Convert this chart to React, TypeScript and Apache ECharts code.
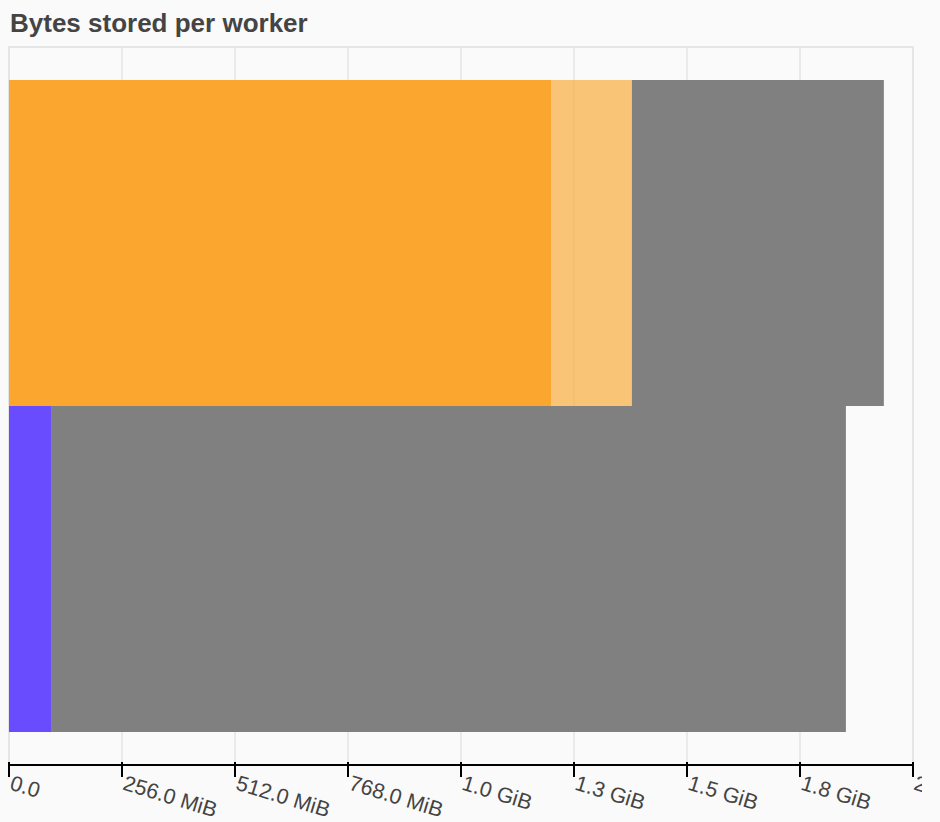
import React, { useEffect, useRef } from "react";
import * as echarts from "echarts";

const workers = ["worker-0", "worker-1"];
// values in MiB
const managed = [1228, 97];
const unmanagedRecent = [183, 0];
const unmanagedOld = [571, 1799];
const managedColors = ["#FBA72F", "#6A4CFF"];
const tickLabels = ["0.0", "256.0 MiB", "512.0 MiB", "768.0 MiB", "1.0 GiB", "1.3 GiB", "1.5 GiB", "1.8 GiB", "2.0 GiB"];
const axisMax = 2048;
const tickStep = 256;

const FONT = "'Liberation Sans', Arial, Helvetica, sans-serif";

export default function App() {
  const ref = useRef<HTMLDivElement>(null);
  useEffect(() => {
    document.body.style.margin = "0";
    document.body.style.background = "#fafafa";
    const chart = echarts.init(ref.current!, undefined, { renderer: "svg" });
    const fmt = (v: number) => {
      const i = Math.round(v / tickStep);
      return tickLabels[i] ?? "";
    };
    chart.setOption({
      animation: false,
      backgroundColor: "#fafafa",
      title: {
        text: "Bytes stored per worker",
        left: 10,
        top: 10,
        padding: 0,
        textStyle: { fontFamily: FONT, fontSize: 26, fontWeight: "bold", color: "#444444" },
      },
      grid: [
        { left: 9, right: 9, top: 47, bottom: 57, outerBoundsMode: "none", containLabel: false, show: true, borderColor: "#e5e5e5", borderWidth: 2, backgroundColor: "transparent" },
        { left: 9, right: 9, top: 80, bottom: 90, outerBoundsMode: "none", containLabel: false },
        { left: 9, right: 9, top: 47, bottom: 57, outerBoundsMode: "none", containLabel: false },
      ],
      xAxis: [
        {
          gridIndex: 0,
          type: "value",
          min: 0,
          max: axisMax,
          interval: tickStep,
          axisLine: { show: true, onZero: false, lineStyle: { color: "#000", width: 2 } },
          axisTick: { show: true, length: 12, lineStyle: { color: "#000", width: 2 } },
          splitLine: { show: true, lineStyle: { color: "#e5e5e5", width: 1.5 } },
          axisLabel: {
            show: true,
            rotate: -17,
            margin: 17,
            formatter: fmt,
            fontFamily: FONT,
            fontSize: 21.5,
            color: "#444444",
            padding: [0, 0, 0, 2],
            showMaxLabel: true,
            showMinLabel: true,
          },
        },
        {
          gridIndex: 1,
          type: "value",
          min: 0,
          max: axisMax,
          show: false,
        },
        {
          gridIndex: 2,
          type: "value",
          min: 0,
          max: axisMax,
          interval: tickStep,
          axisLine: { show: false },
          axisTick: { show: true, inside: true, length: 3, lineStyle: { color: "#000", width: 2 } },
          splitLine: { show: false },
          axisLabel: { show: false },
        },
      ],
      yAxis: [
        { gridIndex: 0, type: "category", data: workers, show: false },
        { gridIndex: 1, type: "category", data: workers, inverse: true, show: false },
        { gridIndex: 2, type: "category", data: workers, show: false },
      ],
      series: [
        {
          type: "bar",
          name: "managed",
          xAxisIndex: 1,
          yAxisIndex: 1,
          stack: "mem",
          barCategoryGap: 0,
          data: managed.map((v, i) => ({ value: v, itemStyle: { color: managedColors[i] } })),
        },
        {
          type: "bar",
          name: "unmanaged recent",
          xAxisIndex: 1,
          yAxisIndex: 1,
          stack: "mem",
          barCategoryGap: 0,
          itemStyle: { color: "rgba(251,167,47,0.65)" },
          data: unmanagedRecent,
        },
        {
          type: "bar",
          name: "unmanaged old",
          xAxisIndex: 1,
          yAxisIndex: 1,
          stack: "mem",
          barCategoryGap: 0,
          itemStyle: { color: "#808080" },
          data: unmanagedOld,
        },
      ],
    });
    return () => chart.dispose();
  }, []);
  return (
    <div style={{ width: 940, height: 822, background: "#fafafa", overflow: "hidden" }}>
      <div ref={ref} style={{ width: 922, height: 822, overflow: "hidden" }} />
    </div>
  );
}
